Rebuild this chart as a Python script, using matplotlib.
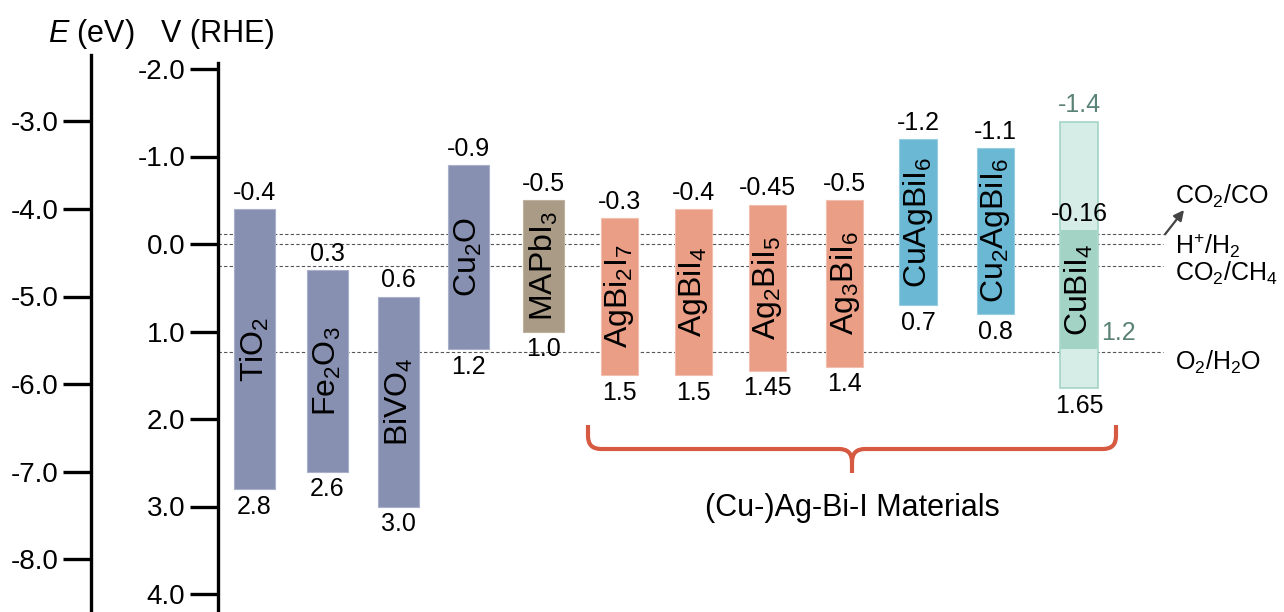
import matplotlib
matplotlib.use("Agg")
import matplotlib.pyplot as plt
from matplotlib.path import Path
from matplotlib.patches import PathPatch
from matplotlib.ticker import FormatStrFormatter

plt.rcParams['font.family'] = ['Liberation Sans', 'DejaVu Sans']
plt.rcParams['mathtext.fontset'] = 'custom'
plt.rcParams['mathtext.rm'] = 'Liberation Sans'
plt.rcParams['mathtext.it'] = 'Liberation Sans:italic'
plt.rcParams['axes.unicode_minus'] = False

# band edges vs RHE (conduction band top, valence band bottom)
materials = [r"TiO$_2$", r"Fe$_2$O$_3$", r"BiVO$_4$", r"Cu$_2$O", r"MAPbI$_3$",
             r"AgBi$_2$I$_7$", r"AgBiI$_4$", r"Ag$_2$BiI$_5$", r"Ag$_3$BiI$_6$",
             r"CuAgBiI$_6$", r"Cu$_2$AgBiI$_6$", r"CuBiI$_4$"]
cb_edge = [-0.4, 0.3, 0.6, -0.9, -0.5, -0.3, -0.4, -0.45, -0.5, -1.2, -1.1, -1.4]
vb_edge = [2.8, 2.6, 3.0, 1.2, 1.0, 1.5, 1.5, 1.45, 1.4, 0.7, 0.8, 1.65]
family = ["oxide", "oxide", "oxide", "oxide", "perovskite",
          "agbii", "agbii", "agbii", "agbii", "cuagbii", "cuagbii", "cubii"]
# CuBiI4: second (inner) band estimate
cubii4_inner = [-0.16, 1.2]

redox_couples = [r"CO$_2$/CO", r"H$^{{+}}$/H$_2$", r"CO$_2$/CH$_4$", r"O$_2$/H$_2$O"]
redox_v = [-0.11, 0.0, 0.25, 1.23]

v_ticks = [-2.0, -1.0, 0.0, 1.0, 2.0, 3.0, 4.0]
e_ticks = [-3.0, -4.0, -5.0, -6.0, -7.0, -8.0]

# ---- layout (pixel units, figure is 1284 x 612) ----
W, H = 1284, 612
AX_L, E_AX = 218, 91          # x of the V(RHE) axis and of the E(eV) axis
Y0, PX_PER_V = 244, 87.5      # pixel row of 0 V and scale
bar_x = [254.5, 327.5, 398.5, 468.5, 543.5, 619.5, 693.5, 767.5, 844.5,
         918, 995.5, 1079]
bar_w = [41, 41, 41, 41, 41, 37, 37, 37, 37, 38, 37, 38]
colors = {"oxide": ("#8790b1", "#a9b0c9"), "perovskite": ("#a99b86", "#bdb2a2"),
          "agbii": ("#e99e85", "#f2bfae"), "cuagbii": ("#6bb8d4", "#96cde2"),
          "cubii": ("#d6ece6", "#a4d5c7")}
CUBII_INNER = "#a3d3c4"
CUBII_TEXT = "#5b8277"
BRACE = "#d65a42"
FS_TICK, FS_VAL, FS_NAME, FS_LAB = 20, 18, 23, 18


def v_at(ypx):
    return (ypx - Y0) / PX_PER_V


def fmt(v):
    s = f"{v:.2f}".rstrip("0")
    return s + "0" if s.endswith(".") else s


fig = plt.figure(figsize=(W / 100, H / 100), dpi=100, facecolor="white")
ax = fig.add_axes([AX_L / W, 0, 1 - AX_L / W, 1])
ax.set_xlim(AX_L, W)
ax.set_ylim(v_at(H), v_at(0))
ax.patch.set_visible(False)

for sp in ("top", "right", "bottom"):
    ax.spines[sp].set_visible(False)
ax.spines["left"].set_linewidth(2.4)
ax.spines["left"].set_bounds(v_at(63), v_at(H))
ax.set_xticks([])
ax.set_yticks(v_ticks)
ax.yaxis.set_major_formatter(FormatStrFormatter("%.1f"))
ax.tick_params(axis="y", direction="out", length=20, width=2.4,
               labelsize=FS_TICK, pad=3.5)

# absolute energy scale, E = -4.4 - V(RHE)
sec = ax.secondary_yaxis((E_AX - AX_L) / (W - AX_L),
                         functions=(lambda v: -4.4 - v, lambda e: -4.4 - e))
sec.set_yticks(e_ticks)
sec.yaxis.set_major_formatter(FormatStrFormatter("%.1f"))
sec.tick_params(axis="y", direction="out", length=20, width=2.4,
                labelsize=FS_TICK, pad=3.5)
sec.spines["left"].set_linewidth(2.4)
sec.spines["left"].set_bounds(-4.4 - v_at(H), -4.4 - v_at(55))

fig.text(E_AX / W, 1 - 34 / H, "$E$ (eV)", ha="center", va="center", fontsize=22)
fig.text(AX_L / W, 1 - 34 / H, "V (RHE)", ha="center", va="center", fontsize=22)

# redox potentials
ax.hlines(redox_v, AX_L, 1163, colors="#555555", linestyles=(0, (3, 2)),
          linewidth=0.8, zorder=1)
label_y = [v_at(196), v_at(246), v_at(273), v_at(362)]
for name, y in zip(redox_couples, label_y):
    ax.text(1175, y, name, ha="left", va="center", fontsize=FS_LAB)
ax.annotate("", xy=(1184, v_at(210)), xytext=(1165, redox_v[0]),
            arrowprops=dict(arrowstyle="-|>,head_length=0.6,head_width=0.3",
                            color="#444444", lw=1.6, shrinkA=0, shrinkB=0))

# band bars
for i, name in enumerate(materials):
    face, edge = colors[family[i]]
    cb, vb = cb_edge[i], vb_edge[i]
    ax.bar(bar_x[i], vb - cb, bottom=cb, width=bar_w[i], color=face,
           edgecolor=edge, linewidth=1.2 if family[i] == "cubii" else 0.8,
           zorder=2)
    top_col = CUBII_TEXT if family[i] == "cubii" else "black"
    ax.annotate(fmt(cb), (bar_x[i], cb), xytext=(0, 3), textcoords="offset points",
                ha="center", va="bottom", fontsize=FS_VAL, color=top_col)
    ax.annotate(fmt(vb), (bar_x[i], vb), xytext=(0, -4), textcoords="offset points",
                ha="center", va="top", fontsize=FS_VAL)
    if family[i] == "cubii":
        lo, hi = cubii4_inner
        ax.bar(bar_x[i], hi - lo, bottom=lo, width=bar_w[i] - 2,
               color=CUBII_INNER, linewidth=0, zorder=3)
        ax.annotate(fmt(lo), (bar_x[i], lo), xytext=(0, 3),
                    textcoords="offset points", ha="center", va="bottom",
                    fontsize=FS_VAL, zorder=4)
        ax.annotate(fmt(hi), (bar_x[i] + bar_w[i] / 2, hi), xytext=(2, 3),
                    textcoords="offset points", ha="left", va="bottom",
                    fontsize=FS_VAL, color=CUBII_TEXT)
        mid = (lo + hi) / 2
    else:
        mid = (cb + vb) / 2
    ax.text(bar_x[i], mid, name, rotation=90, ha="center", va="center",
            fontsize=FS_NAME, zorder=5)

# curly brace under the (Cu-)Ag-Bi-I group
bl, br, bc = 588, 1116, 852
y_top, y_mid, y_tip, r = 425, 449, 473, 13
pts = [(bl, y_top), (bl, y_mid - r), (bl, y_mid), (bl + r, y_mid),
       (bc - r, y_mid), (bc, y_mid), (bc, y_mid + r), (bc, y_tip)]
codes = [Path.MOVETO, Path.LINETO, Path.CURVE3, Path.CURVE3,
         Path.LINETO, Path.CURVE3, Path.CURVE3, Path.LINETO]
right = [(bc, y_mid + r), (bc, y_mid), (bc + r, y_mid), (br - r, y_mid),
         (br, y_mid), (br, y_mid - r), (br, y_top)]
rcodes = [Path.MOVETO, Path.CURVE3, Path.CURVE3, Path.LINETO,
          Path.CURVE3, Path.CURVE3, Path.LINETO]
for p, c in ((pts, codes), (right, rcodes)):
    verts = [(x, v_at(y)) for x, y in p]
    ax.add_patch(PathPatch(Path(verts, c), facecolor="none", edgecolor=BRACE,
                           lw=3.0, capstyle="butt", joinstyle="round"))
ax.text(bc, v_at(508), "(Cu-)Ag-Bi-I Materials", ha="center", va="center",
        fontsize=22)

fig.savefig("out.png", dpi=100, facecolor="white")
